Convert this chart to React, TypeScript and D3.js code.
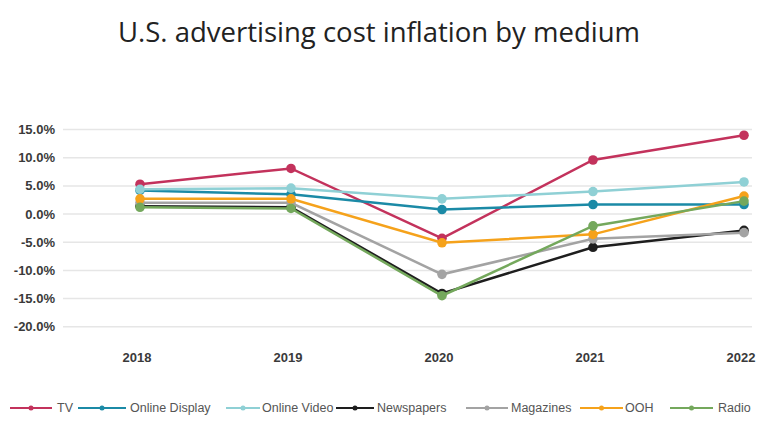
import React from "react";
import * as d3 from "d3";

const years = ["2018", "2019", "2020", "2021", "2022"];
const seriesNames = ["TV", "Online Display", "Online Video", "Newspapers", "Magazines", "OOH", "Radio"];
const tvValues = [5.3, 8.1, -4.3, 9.6, 14.0];
const onlineDisplayValues = [4.2, 3.5, 0.8, 1.7, 1.7];
const onlineVideoValues = [4.4, 4.6, 2.7, 4.0, 5.7];
const newspapersValues = [1.4, 1.2, -14.1, -5.9, -2.9];
const magazinesValues = [2.0, 2.0, -10.7, -4.4, -3.3];
const oohValues = [2.7, 2.7, -5.1, -3.6, 3.2];
const radioValues = [1.2, 1.0, -14.5, -2.1, 2.3];
const yTicks = [15, 10, 5, 0, -5, -10, -15, -20];
const colors = ["#c3325c", "#1b8aa6", "#8fd0d5", "#1e1e1e", "#a3a3a3", "#f5a21b", "#74a85c"];

const allValues = [tvValues, onlineDisplayValues, onlineVideoValues, newspapersValues, magazinesValues, oohValues, radioValues];

const legendLayout = [
  { lx: 10, tx: 57 },
  { lx: 78, tx: 130 },
  { lx: 226, tx: 262 },
  { lx: 336, tx: 377 },
  { lx: 466, tx: 511 },
  { lx: 580, tx: 625 },
  { lx: 670, tx: 718 },
];
const legendLineW = [42, 48, 34, 38, 42, 43, 43];

export default function App() {
  const W = 776, H = 445;
  const x = d3.scalePoint<string>().domain(years).range([140, 744]);
  const y = d3.scaleLinear().domain([-20, 15]).range([326.7, 129.6]);
  const line = d3.line<number>().x((_, i) => x(years[i])!).y((d) => y(d));

  return (
    <svg width={W} height={H} style={{ position: "absolute", left: 0, top: 0, background: "#fff" }}>
      <text x={379} y={42} textAnchor="middle" fontFamily="'Open Sans', sans-serif" fontSize={27.5} fill="#222">
        U.S. advertising cost inflation by medium
      </text>
      {yTicks.map((t) => (
        <g key={t}>
          <line x1={63} x2={752} y1={y(t)} y2={y(t)} stroke="#e6e6e6" strokeWidth={1.5} />
          <text x={55} y={y(t)} dy="0.35em" textAnchor="end" fontFamily="'Liberation Sans', Arial, sans-serif" fontWeight="bold" fontSize={13} fill="#3a3a3a">
            {t.toFixed(1) + "%"}
          </text>
        </g>
      ))}
      {years.map((yr) => (
        <text key={yr} x={x(yr)! - 3} y={357} dy="0.35em" textAnchor="middle" fontFamily="'Liberation Sans', Arial, sans-serif" fontWeight="bold" fontSize={13} fill="#3a3a3a">
          {yr}
        </text>
      ))}
      {allValues.map((vals, si) => (
        <g key={seriesNames[si]}>
          <path d={line(vals)!} fill="none" stroke={colors[si]} strokeWidth={2.5} />
          {vals.map((v, i) => (
            <circle key={i} cx={x(years[i])} cy={y(v)} r={4.8} fill={colors[si]} />
          ))}
        </g>
      ))}
      {seriesNames.map((n, si) => {
        const L = legendLayout[si];
        const w = legendLineW[si];
        return (
          <g key={n}>
            <line x1={L.lx} x2={L.lx + w} y1={408} y2={408} stroke={colors[si]} strokeWidth={2} />
            <circle cx={L.lx + w / 2} cy={408} r={2.5} fill={colors[si]} />
            <text x={L.tx} y={408} dy="0.35em" fontFamily="'Liberation Sans', Arial, sans-serif" fontSize={12.5} fill="#555">
              {n}
            </text>
          </g>
        );
      })}
    </svg>
  );
}
